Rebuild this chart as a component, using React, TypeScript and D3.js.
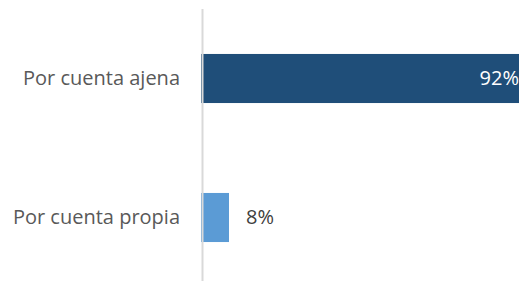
import React from "react";
import * as d3 from "d3";

const categories = ["Por cuenta ajena", "Por cuenta propia"];
const values = [92, 8];
const valueLabels = ["92%", "8%"];
const barColors = ["#1F4E79", "#5B9BD5"];
const labelColors = ["#FFFFFF", "#404040"];

const W = 519;
const H = 281;

export default function App() {
  const x = d3.scaleLinear().domain([0, 100]).range([201, 551]);
  const y = d3
    .scaleBand<string>()
    .domain(categories)
    .range([9, 287])
    .paddingInner(0.647)
    .paddingOuter(0.3235);
  const font = "'Open Sans', 'Liberation Sans', sans-serif";
  return (
    <svg
      width={W}
      height={H}
      style={{ position: "absolute", left: 0, top: 0, background: "#fff" }}
    >
      {categories.map((c, i) => {
        const y0 = y(c)!;
        const cy = y0 + y.bandwidth() / 2;
        const inside = i === 0;
        return (
          <g key={c}>
            <rect
              x={x(0)}
              y={y0}
              width={x(values[i]) - x(0)}
              height={y.bandwidth()}
              fill={barColors[i]}
            />
            <text
              x={180}
              y={cy}
              dy="0.33em"
              textAnchor="end"
              fontFamily={font}
              fontSize={20}
              fill="#595959"
            >
              {c}
            </text>
            <text
              x={inside ? x(values[i]) - 4 : x(values[i]) + 17}
              y={cy}
              dy="0.33em"
              textAnchor={inside ? "end" : "start"}
              fontFamily={font}
              fontSize={20}
              fill={labelColors[i]}
            >
              {valueLabels[i]}
            </text>
          </g>
        );
      })}
      <line
        x1={x(0) + 1.5}
        x2={x(0) + 1.5}
        y1={9}
        y2={287}
        stroke="#D9D9D9"
        strokeWidth={2}
      />
    </svg>
  );
}
